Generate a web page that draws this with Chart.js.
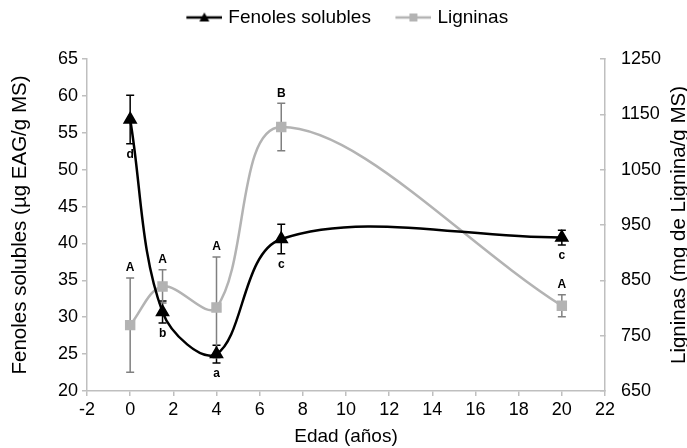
<!DOCTYPE html>
<html>
<head>
<meta charset="utf-8">
<script src="https://cdn.jsdelivr.net/npm/chart.js@4"></script>
<style>
  html, body { margin: 0; padding: 0; background: #fff; }
  #wrap { width: 687px; height: 448px; }
</style>
</head>
<body>
<div id="wrap"><canvas id="chart"></canvas></div>
<script>
const edades = [0, 1.5, 4, 7, 20];
const fenoles = [56.8, 30.7, 25.0, 40.6, 40.8];
const fenolesErr = [3.3, 1.5, 1.2, 2.0, 1.0];
const fenolesLetras = ['d', 'b', 'a', 'c', 'c'];
const ligninas = [769, 839, 801, 1127, 804];
const ligninasErr = [85, 30, 91, 43, 20];
const ligninasLetras = ['A', 'A', 'A', 'B', 'A'];

const FONT = '"Liberation Sans", Arial, Helvetica, sans-serif';
const AXIS = '#bfbfbf';
const GRAY = '#b3b3b3';
const RIGHT_TITLE = 'Ligninas (mg de Lignina/g MS)';

// legend swatch: line with the marker in the middle (Excel style)
function swatch(color, shape) {
  const c = document.createElement('canvas');
  c.width = 47; c.height = 14;
  const g = c.getContext('2d');
  g.strokeStyle = color; g.lineWidth = 2.5;
  g.beginPath(); g.moveTo(11, 7); g.lineTo(47, 7); g.stroke();
  g.fillStyle = color;
  g.beginPath();
  if (shape === 'triangle') { g.moveTo(29, 2); g.lineTo(34, 11); g.lineTo(24, 11); }
  else g.rect(25, 3, 8, 8);
  g.fill();
  return c;
}

const errorBars = {
  id: 'errorBars',
  beforeDatasetsDraw(chart) {
    const ctx = chart.ctx, x = chart.scales.x;
    const sets = [
      { y: chart.scales.y, vals: fenoles, err: fenolesErr, color: '#000' },
      { y: chart.scales.y2, vals: ligninas, err: ligninasErr, color: '#808080' },
    ];
    ctx.save();
    ctx.lineWidth = 1.5;
    sets.forEach(s => {
      ctx.strokeStyle = s.color;
      edades.forEach((e, i) => {
        const px = x.getPixelForValue(e);
        const hi = s.y.getPixelForValue(s.vals[i] + s.err[i]);
        const lo = s.y.getPixelForValue(s.vals[i] - s.err[i]);
        ctx.beginPath();
        ctx.moveTo(px, hi); ctx.lineTo(px, lo);
        ctx.moveTo(px - 4, hi); ctx.lineTo(px + 4, hi);
        ctx.moveTo(px - 4, lo); ctx.lineTo(px + 4, lo);
        ctx.stroke();
      });
    });
    ctx.restore();
  },
  afterDatasetsDraw(chart) {
    const ctx = chart.ctx, x = chart.scales.x;
    ctx.save();
    ctx.fillStyle = '#000';
    ctx.font = 'bold 12px ' + FONT;
    ctx.textAlign = 'center';
    ctx.textBaseline = 'middle';
    edades.forEach((e, i) => {
      const px = x.getPixelForValue(e);
      const lo = chart.scales.y.getPixelForValue(fenoles[i] - fenolesErr[i]);
      ctx.fillText(fenolesLetras[i], px, lo + 11);
      const hi = chart.scales.y2.getPixelForValue(ligninas[i] + ligninasErr[i]);
      ctx.fillText(ligninasLetras[i], px, hi - 10);
    });
    ctx.restore();
  },
  // right axis title reads bottom-to-top like the left one
  afterDraw(chart) {
    const ctx = chart.ctx, s = chart.scales.y2;
    ctx.save();
    ctx.translate(s.right - 8, (s.top + s.bottom) / 2);
    ctx.rotate(-Math.PI / 2);
    ctx.font = '20.5px ' + FONT;
    ctx.fillStyle = '#000';
    ctx.textAlign = 'center';
    ctx.textBaseline = 'middle';
    ctx.fillText(RIGHT_TITLE, 0, 0);
    ctx.restore();
  }
};

// fixed legend height so the plot starts where the reference does
const legendHeight = {
  id: 'legendHeight',
  beforeLayout(chart) {
    const lg = chart.legend;
    if (!lg || lg._patched) return;
    const fit = lg.fit;
    lg.fit = function () { fit.call(this); this.height = 68; };
    lg._patched = true;
  }
};

Chart.defaults.font.family = FONT;
Chart.defaults.color = '#000';

new Chart(document.getElementById('chart'), {
  type: 'line',
  data: {
    datasets: [
      {
        label: 'Fenoles solubles',
        data: edades.map((e, i) => ({ x: e, y: fenoles[i] })),
        yAxisID: 'y',
        borderColor: '#000', backgroundColor: '#000',
        borderWidth: 2.5, tension: 0.35,
        pointStyle: 'triangle', pointRadius: 6, pointHoverRadius: 6,
      },
      {
        label: 'Ligninas',
        data: edades.map((e, i) => ({ x: e, y: ligninas[i] })),
        yAxisID: 'y2',
        borderColor: GRAY, backgroundColor: GRAY,
        borderWidth: 2.5, tension: 0.35,
        pointStyle: 'rect', pointRadius: 5.6, pointHoverRadius: 5.6,
      },
    ],
  },
  options: {
    responsive: true,
    maintainAspectRatio: false,
    animation: false,
    layout: { padding: { top: -9, left: 0, right: 0, bottom: 0 } },
    plugins: {
      tooltip: { enabled: false },
      legend: {
        position: 'top',
        labels: {
          font: { size: 19 },
          color: '#000',
          usePointStyle: true,
          pointStyleWidth: 40,
          padding: 17,
          generateLabels: chart => chart.data.datasets.map((d, i) => ({
            text: d.label,
            pointStyle: swatch(d.borderColor, i === 0 ? 'triangle' : 'rect'),
            datasetIndex: i,
            fontColor: '#000',
            lineWidth: 0,
          })),
        },
      },
    },
    scales: {
      x: {
        type: 'linear', min: -2, max: 22,
        ticks: { stepSize: 2, font: { size: 18 }, padding: 3 },
        grid: { drawOnChartArea: false, color: AXIS, tickLength: 5, lineWidth: 1.5 },
        border: { color: AXIS, width: 1.5 },
        title: { display: true, text: 'Edad (años)', font: { size: 19, lineHeight: 1 }, padding: { top: 0, bottom: 2 } },
        afterFit: s => { s.height = 57; },
      },
      y: {
        position: 'left', min: 20, max: 65,
        ticks: { stepSize: 5, font: { size: 18 }, padding: 4 },
        grid: { drawOnChartArea: false, color: AXIS, tickLength: 5, lineWidth: 1.5 },
        border: { color: AXIS, width: 1.5 },
        title: { display: true, text: 'Fenoles solubles (µg EAG/g MS)', font: { size: 20.5, lineHeight: 1 }, padding: { top: 10, bottom: 0 } },
        afterFit: s => { s.width = 87; },
      },
      y2: {
        position: 'right', min: 650, max: 1250,
        ticks: { stepSize: 100, font: { size: 18 }, padding: 21, callback: v => String(v) },
        grid: { drawOnChartArea: false, color: AXIS, tickLength: -5, lineWidth: 1.5 },
        border: { color: AXIS, width: 1.5 },
        title: { display: false },
        afterFit: s => { s.width = 82; },
      },
    },
  },
  plugins: [errorBars, legendHeight],
});
</script>
</body>
</html>
